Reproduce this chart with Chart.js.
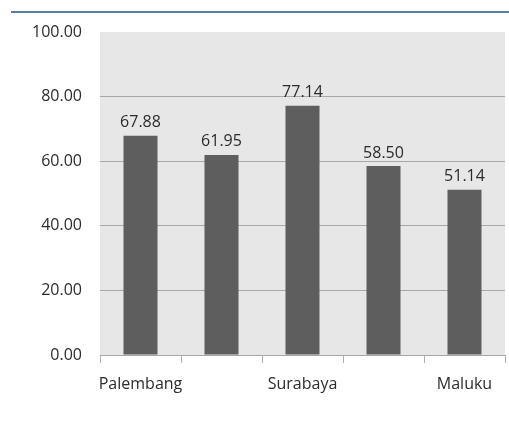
<!DOCTYPE html>
<html>
<head>
<meta charset="utf-8">
<script src="https://cdn.jsdelivr.net/npm/chart.js@4"></script>
<style>
  html, body { margin: 0; padding: 0; background: #fff; }
  #wrap { position: relative; width: 509px; height: 423px; }
  #topline { position: absolute; left: 11px; right: 0; top: 11px; height: 2px; background: #5a7f9c; }
</style>
</head>
<body>
<div id="wrap">
  <div id="topline"></div>
  <canvas id="c" width="509" height="423"></canvas>
</div>
<script>
// categories (only every other name is printed in the source picture)
const regions = ['Palembang', '', 'Surabaya', '', 'Maluku'];
const scores = [67.88, 61.95, 77.14, 58.50, 51.14];
const yTicks = [0, 20, 40, 60, 80, 100];

const FONT = '"Open Sans", sans-serif';

const plotBg = {
    id: 'plotBg',
    beforeDraw(chart) {
        const a = chart.chartArea, ctx = chart.ctx;
        ctx.save();
        ctx.fillStyle = '#e7e7e7';
        ctx.fillRect(a.left, a.top, a.right - a.left, a.bottom - a.top);
        ctx.restore();
    }
};

const barLabels = {
    id: 'barLabels',
    afterDatasetsDraw(chart) {
        const ctx = chart.ctx;
        const meta = chart.getDatasetMeta(0);
        ctx.save();
        ctx.font = '16px ' + FONT;
        ctx.fillStyle = '#2b2b2b';
        ctx.textAlign = 'center';
        ctx.textBaseline = 'bottom';
        meta.data.forEach((bar, i) => {
            ctx.fillText(scores[i].toFixed(2), bar.x, bar.y - 5);
        });
        ctx.restore();
    }
};

new Chart(document.getElementById('c').getContext('2d'), {
    type: 'bar',
    data: {
        labels: regions,
        datasets: [{
            data: scores,
            backgroundColor: '#5e5e5e',
            categoryPercentage: 1,
            barPercentage: 0.42
        }]
    },
    options: {
        responsive: false,
        animation: false,
        layout: { padding: { left: 0, right: 4, top: 32, bottom: 0 } },
        plugins: { legend: { display: false }, tooltip: { enabled: false } },
        scales: {
            x: {
                grid: { drawOnChartArea: false, color: '#b0b0b0', tickLength: 8, offset: true },
                border: { color: '#a8a8a8' },
                ticks: { autoSkip: false, maxRotation: 0, padding: 12, color: '#2b2b2b', font: { family: FONT, size: 16 } },
                afterFit(s) { s.height = 423 - 355; }
            },
            y: {
                min: 0, max: 100,
                afterBuildTicks(s) { s.ticks = yTicks.map(v => ({ value: v })); },
                grid: { color: ctx => (ctx.tick && ctx.tick.value === 100) ? 'rgba(0,0,0,0)' : '#a8a8a8', drawTicks: false },
                border: { display: false },
                ticks: {
                    padding: 18, color: '#2b2b2b', font: { family: FONT, size: 16 },
                    callback: v => Number(v).toFixed(2)
                },
                afterFit(s) { s.width = 100; }
            }
        }
    },
    plugins: [plotBg, barLabels]
});
</script>
</body>
</html>
